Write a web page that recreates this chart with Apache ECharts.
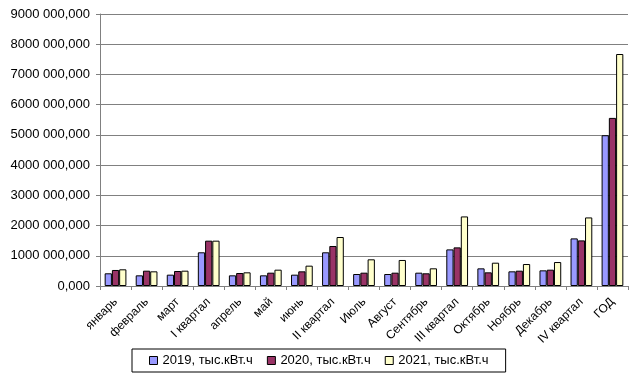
<!DOCTYPE html>
<html><head><meta charset="utf-8">
<script src="https://cdn.jsdelivr.net/npm/echarts@6/dist/echarts.min.js"></script>
<style>html,body{margin:0;padding:0;background:#fff}#c{width:638px;height:379px}</style>
</head><body><div id="c"></div>
<script>
const categories = ['январь','февраль','март','I квартал','апрель','май','июнь','II квартал','Июль','Август','Сентябрь','III квартал','Октябрь','Ноябрь','Декабрь','IV квартал','ГОД'];
const seriesNames = ['2019, тыс.кВт.ч','2020, тыс.кВт.ч','2021, тыс.кВт.ч'];
const v2019 = [420000,353000,375000,1115000,353000,353000,375000,1115000,397000,397000,441000,1211000,584000,485000,518000,1575000,4989000];
const v2020 = [530000,507000,496000,1500000,430000,441000,485000,1324000,441000,441000,420000,1278000,452000,507000,540000,1509000,5562000];
const v2021 = [552000,485000,507000,1500000,452000,540000,673000,1621000,883000,861000,585000,2302000,771000,727000,793000,2269000,7676000];
const colors = ['#9999FF','#993366','#FFFFCC'];
const yMax = 9000000, yStep = 1000000;

function fmt(v){
  if (v === 0) return '0,000';
  const hi = Math.floor(v/1000), lo = String(v%1000).padStart(3,'0');
  return hi + ' ' + lo + ',000';
}
const font = 'Liberation Sans, Arial, sans-serif';
const chart = echarts.init(document.getElementById('c'), null, {renderer:'canvas'});
const data = [v2019, v2020, v2021];
chart.setOption({
  backgroundColor:'#fff',
  animation:false,
  textStyle:{fontFamily:font},
  grid:{left:100, right:10, top:14, bottom:93, containLabel:false},
  legend:{
    left:132, top:349, padding:[5,17], itemGap:14, itemWidth:8, itemHeight:8,
    borderColor:'#000', borderWidth:1, backgroundColor:'#fff',
    icon:'rect',
    itemStyle:{borderColor:'#000', borderWidth:1},
    textStyle:{fontFamily:font, fontSize:13, color:'#000'},
    data: seriesNames
  },
  xAxis:{
    type:'category', data:categories,
    axisLine:{lineStyle:{color:'#808080', width:1}},
    axisTick:{show:true, length:4, lineStyle:{color:'#808080'}},
    axisLabel:{rotate:45, fontSize:12, color:'#000', fontFamily:font, interval:0, margin:14}
  },
  yAxis:{
    type:'value', min:0, max:yMax, interval:yStep,
    axisLine:{show:true, lineStyle:{color:'#808080'}},
    axisTick:{show:true, inside:false, length:4, lineStyle:{color:'#808080'}},
    splitLine:{lineStyle:{color:'#808080', width:1}},
    axisLabel:{formatter:fmt, fontSize:13, color:'#000', fontFamily:font, margin:10}
  },
  series: data.map((d,i)=>({
    name:seriesNames[i], type:'bar', data:d,
    barGap:'0%', barCategoryGap:'30%',
    itemStyle:{color:colors[i], borderColor:'#000', borderWidth:1}
  }))
});
</script></body></html>
